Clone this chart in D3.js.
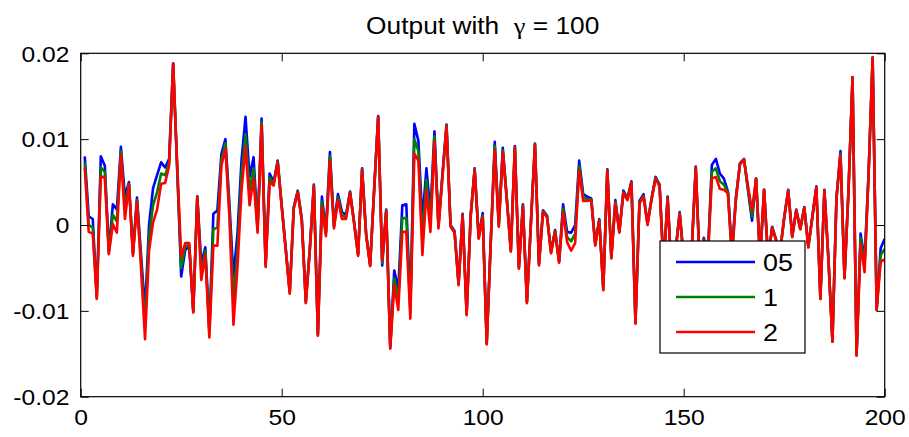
<!DOCTYPE html>
<html><head><meta charset="utf-8">
<script src="https://cdn.jsdelivr.net/npm/d3@7"></script>
<style>
html,body{margin:0;padding:0;background:#fff;}
svg{display:block;}
text{font-family:"Liberation Sans",Arial,Helvetica,sans-serif;fill:#000;}
</style></head>
<body><svg id="c" width="909" height="437"></svg>
<script>
const titleParts = ["Output with\u00A0\u00A0", "\u03B3", " = 100"];
const seriesNames = ["05", "1", "2"];
const seriesColors = ["#0000ff", "#008000", "#ff0000"];
const xTicks = [0, 50, 100, 150, 200];
const xTickLabels = ["0", "50", "100", "150", "200"];
const yTicks = [-0.02, -0.01, 0, 0.01, 0.02];
const yTickLabels = ["-0.02", "-0.01", "0", "0.01", "0.02"];

const series05 = [
.0080,.0010,.0007,-.0083,.0080,.0069,-.0030,.0024,.0018,.0091,
.0033,.0050,-.0033,.0032,-.0034,-.0100,.0000,.0043,.0058,.0073,
.0067,.0077,.0188,.0065,-.0060,-.0029,-.0025,-.0100,.0033,-.0045,
-.0026,-.0121,.0013,.0017,.0083,.0100,.0024,-.0060,-.0010,.0075,
.0126,.0056,.0079,-.0003,.0124,-.0045,.0060,.0050,.0075,.0023,
-.0027,-.0078,.0021,.0040,.0007,-.0089,-.0027,.0047,-.0127,.0033,
-.0008,.0085,.0000,.0036,.0015,.0012,.0039,.0004,-.0034,.0066,
-.0010,-.0046,.0042,.0127,-.0047,.0018,-.0142,-.0053,-.0075,.0023,
.0024,-.0095,.0118,.0098,.0005,.0066,.0015,.0109,.0000,.0060,
.0117,.0000,-.0007,-.0068,.0013,-.0103,.0011,.0066,-.0014,.0014,
-.0137,-.0018,.0097,.0001,.0090,.0031,-.0029,.0092,-.0049,.0024,
-.0089,.0004,.0095,-.0045,.0017,.0011,-.0031,-.0006,-.0042,.0024,
-.0008,-.0009,.0000,.0075,.0036,.0033,.0031,-.0022,.0007,-.0074,
.0065,-.0037,.0029,-.0007,.0040,.0031,.0051,-.0113,.0028,.0036,
.0002,.0031,.0056,.0047,-.0048,.0033,-.0058,-.0028,.0015,-.0038,
-.0068,-.0028,.0068,-.0048,-.0015,-.0035,.0070,.0077,.0060,.0054,
.0039,-.0030,.0033,.0072,.0077,.0040,.0005,.0054,-.0040,.0041,
-.0040,-.0002,-.0017,-.0030,.0009,.0041,-.0013,.0018,-.0004,.0021,
-.0025,.0010,.0045,-.0085,.0041,-.0039,-.0135,.0032,.0086,-.0061,
.0041,.0172,-.0151,-.0010,-.0040,.0061,.0195,-.0098,-.0027,-.0016
];
const series1 = [
.0073,.0000,-.0003,-.0085,.0067,.0062,-.0032,.0012,.0004,.0086,
.0020,.0048,-.0034,.0029,-.0042,-.0117,-.0015,.0023,.0038,.0060,
.0058,.0073,.0188,.0067,-.0050,-.0025,-.0023,-.0101,.0033,-.0055,
-.0030,-.0126,-.0005,-.0003,.0076,.0095,.0016,-.0088,-.0030,.0058,
.0106,.0040,.0066,-.0006,.0120,-.0047,.0055,.0048,.0074,.0022,
-.0028,-.0079,.0020,.0039,.0006,-.0090,-.0028,.0046,-.0128,.0027,
-.0010,.0080,-.0002,.0032,.0011,.0009,.0038,.0003,-.0035,.0065,
-.0011,-.0047,.0041,.0126,-.0044,.0017,-.0143,-.0062,-.0087,.0008,
.0008,-.0102,.0100,.0086,-.0015,.0053,.0003,.0103,-.0002,.0058,
.0116,-.0001,-.0008,-.0069,.0012,-.0104,.0010,.0065,-.0015,.0011,
-.0138,-.0020,.0092,-.0001,.0087,.0030,-.0030,.0091,-.0050,.0023,
-.0090,.0003,.0094,-.0046,.0016,.0010,-.0032,-.0007,-.0043,.0019,
-.0014,-.0019,-.0010,.0069,.0032,.0030,.0030,-.0023,.0006,-.0075,
.0064,-.0038,.0027,-.0008,.0038,.0030,.0050,-.0114,.0026,.0034,
.0001,.0030,.0055,.0046,-.0049,.0032,-.0059,-.0029,.0014,-.0039,
-.0069,-.0029,.0067,-.0049,-.0016,-.0038,.0062,.0066,.0051,.0047,
.0038,-.0035,.0031,.0071,.0076,.0042,.0010,.0054,-.0040,.0041,
-.0040,-.0003,-.0018,-.0030,.0008,.0040,-.0014,.0017,-.0005,.0020,
-.0026,.0009,.0044,-.0086,.0040,-.0040,-.0136,.0031,.0083,-.0062,
.0040,.0172,-.0152,-.0015,-.0047,.0060,.0195,-.0099,-.0035,-.0028
];
const series2 = [
.0067,-.0008,-.0010,-.0086,.0057,.0055,-.0034,.0001,-.0009,.0082,
.0007,.0047,-.0036,.0027,-.0049,-.0133,-.0030,.0003,.0018,.0048,
.0049,.0069,.0188,.0070,-.0037,-.0021,-.0021,-.0102,.0033,-.0064,
-.0035,-.0131,-.0024,-.0024,.0069,.0089,.0009,-.0116,-.0049,.0040,
.0091,.0023,.0054,-.0009,.0116,-.0049,.0050,.0046,.0073,.0021,
-.0029,-.0080,.0019,.0038,.0005,-.0091,-.0029,.0045,-.0129,.0021,
-.0013,.0075,-.0004,.0029,.0007,.0007,.0037,.0002,-.0036,.0064,
-.0012,-.0048,.0040,.0126,-.0041,.0016,-.0144,-.0070,-.0099,-.0008,
-.0008,-.0109,.0083,.0075,-.0035,.0040,-.0008,.0097,-.0004,.0056,
.0115,-.0002,-.0009,-.0070,.0011,-.0105,.0009,.0064,-.0016,.0009,
-.0139,-.0022,.0087,-.0002,.0085,.0029,-.0031,.0090,-.0051,.0022,
-.0091,.0002,.0093,-.0047,.0015,.0009,-.0033,-.0008,-.0044,.0015,
-.0020,-.0030,-.0021,.0064,.0028,.0028,.0029,-.0024,.0005,-.0076,
.0063,-.0039,.0025,-.0009,.0037,.0029,.0049,-.0115,.0025,.0033,
.0000,.0029,.0054,.0045,-.0050,.0031,-.0060,-.0030,.0013,-.0040,
-.0070,-.0030,.0067,-.0050,-.0017,-.0040,.0054,.0056,.0042,.0041,
.0037,-.0040,.0030,.0071,.0076,.0045,.0017,.0054,-.0040,.0041,
-.0040,-.0003,-.0018,-.0030,.0008,.0040,-.0014,.0017,-.0005,.0020,
-.0026,.0009,.0044,-.0086,.0040,-.0040,-.0136,.0030,.0081,-.0062,
.0040,.0172,-.0152,-.0022,-.0055,.0060,.0195,-.0099,-.0043,-.0040
];
const allSeries = [series05, series1, series2];

const L = 80.7, R = 884.7, T = 53.3, B = 396.7;
const svg = d3.select("#c");
const x = d3.scaleLinear().domain([0, 200]).range([L, R]);
const y = d3.scaleLinear().domain([-0.02, 0.02]).range([B, T]);
const FS = 22, SX = 1.12;

svg.append("clipPath").attr("id", "pc").append("rect")
  .attr("x", L).attr("y", T).attr("width", R - L).attr("height", B - T);

const line = d3.line().x((d, i) => x(i + 1)).y(d => y(d));
const g = svg.append("g").attr("clip-path", "url(#pc)");
allSeries.forEach((s, k) => {
  g.append("path").datum(s).attr("d", line)
    .attr("fill", "none").attr("stroke", seriesColors[k])
    .attr("stroke-width", 2.6).attr("stroke-linejoin", "round");
});

function styleAxis(sel) {
  sel.select(".domain").remove();
  sel.selectAll("line").attr("stroke", "#000").attr("stroke-width", 1);
}
const ax = svg.append("g").attr("transform", `translate(0,${B})`)
  .call(d3.axisBottom(x).tickValues(xTicks).tickSizeInner(-8).tickSizeOuter(0)
    .tickPadding(13).tickFormat((d, i) => xTickLabels[i]));
styleAxis(ax);
ax.selectAll("text").attr("font-size", FS).attr("fill", "#000")
  .attr("font-family", "Liberation Sans, Arial, sans-serif")
  .attr("transform", `scale(${SX},1)`).attr("x", 0);

const ay = svg.append("g").attr("transform", `translate(${L},0)`)
  .call(d3.axisLeft(y).tickValues(yTicks).tickSizeInner(-8).tickSizeOuter(0)
    .tickPadding(10).tickFormat((d, i) => yTickLabels[i]));
styleAxis(ay);
ay.selectAll("text").attr("font-size", FS).attr("fill", "#000")
  .attr("font-family", "Liberation Sans, Arial, sans-serif")
  .attr("transform", `scale(${SX},1)`).attr("dy", "0.35em");

const at = svg.append("g").attr("transform", `translate(0,${T})`)
  .call(d3.axisTop(x).tickValues(xTicks).tickSizeInner(-8).tickSizeOuter(0).tickFormat(""));
styleAxis(at);
const ar = svg.append("g").attr("transform", `translate(${R},0)`)
  .call(d3.axisRight(y).tickValues(yTicks).tickSizeInner(-8).tickSizeOuter(0).tickFormat(""));
styleAxis(ar);

svg.append("rect").attr("x", L).attr("y", T).attr("width", R - L).attr("height", B - T)
  .attr("fill", "none").attr("stroke", "#000").attr("stroke-width", 1.2);

const tt = svg.append("text").attr("transform", `translate(${(L + R) / 2},34) scale(${SX},1)`)
  .attr("text-anchor", "middle").attr("font-size", 23.5);
tt.append("tspan").text(titleParts[0]);
tt.append("tspan").attr("font-family", "Liberation Serif, Times New Roman, serif").text(titleParts[1]);
tt.append("tspan").text(titleParts[2]);

// legend
const lg = svg.append("g");
lg.append("rect").attr("x", 660).attr("y", 241).attr("width", 145).attr("height", 112)
  .attr("fill", "#fff").attr("stroke", "#000").attr("stroke-width", 1.2);
seriesNames.forEach((n, k) => {
  const yy = 262 + k * 35;
  lg.append("line").attr("x1", 676).attr("x2", 755).attr("y1", yy).attr("y2", yy)
    .attr("stroke", seriesColors[k]).attr("stroke-width", 2.6);
  lg.append("text").attr("transform", `translate(763,${yy + 8.5}) scale(${SX},1)`)
    .attr("font-size", 24).text(n);
});
</script></body></html>
